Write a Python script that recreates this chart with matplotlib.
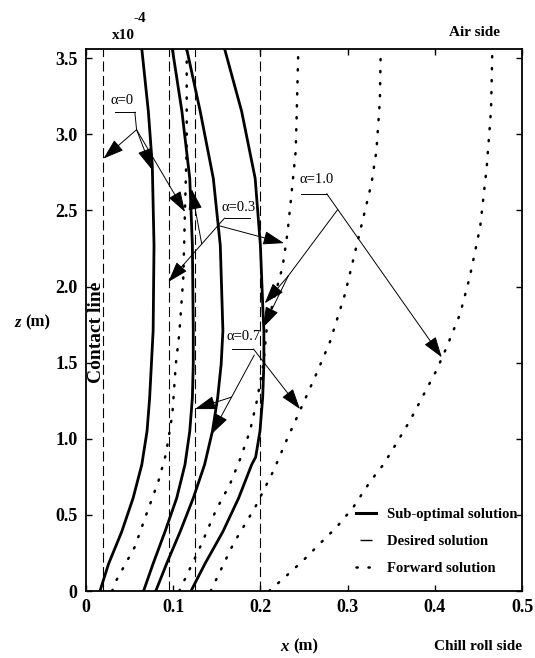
import matplotlib.pyplot as plt
from matplotlib.lines import Line2D

plt.rcParams['font.family'] = ['Liberation Serif', 'DejaVu Serif']
plt.rcParams['font.weight'] = 'bold'

# x in m, z in units of 1e-4 m
# sub-optimal solutions
sub_a0_z = [0, 0.18, 0.39, 0.61, 0.83, 1.05, 1.27, 1.49, 1.71, 2.27, 2.80, 3.15, 3.56]
sub_a0_x = [0.016, 0.026, 0.041, 0.054, 0.064, 0.070, 0.073, 0.075, 0.077, 0.078, 0.076, 0.0715, 0.064]
sub_a3_z = [0, 0.18, 0.39, 0.61, 0.83, 1.05, 1.27, 1.49, 1.71, 2.27, 2.71, 3.15, 3.56]
sub_a3_x = [0.066, 0.077, 0.0906, 0.104, 0.1135, 0.119, 0.122, 0.123, 0.123, 0.122, 0.119, 0.110, 0.099]
sub_a7_z = [0, 0.18, 0.39, 0.61, 0.83, 1.05, 1.27, 1.49, 1.71, 2.27, 2.71, 3.15, 3.56]
sub_a7_x = [0.080, 0.0925, 0.108, 0.123, 0.136, 0.145, 0.151, 0.155, 0.157, 0.154, 0.146, 0.131, 0.1155]
sub_a10_z = [0, 0.18, 0.39, 0.61, 0.83, 0.88, 1.05, 1.27, 1.49, 1.71, 1.83, 2.27, 2.71, 3.15, 3.56]
sub_a10_x = [0.1204, 0.1365, 0.157, 0.175, 0.19, 0.1946, 0.1995, 0.2026, 0.204, 0.204, 0.203, 0.200, 0.194, 0.1785, 0.159]

# forward solutions
fwd_a0_z = [0, 0.066, 0.29, 0.51, 0.72, 0.90, 1.16, 1.49, 1.69, 2.06, 2.5, 2.93, 3.56]
fwd_a0_x = [0.030, 0.0344, 0.056, 0.0696, 0.083, 0.0917, 0.099, 0.103, 0.107, 0.1116, 0.1135, 0.1155, 0.1155]
fwd_a3_z = [0, 0.29, 0.53, 0.70, 0.87, 1.05, 1.25, 1.49, 1.71, 1.91, 2.13, 2.35, 2.57, 2.89, 3.22, 3.56]
fwd_a3_x = [0.107, 0.131, 0.149, 0.165, 0.177, 0.188, 0.196, 0.2035, 0.207, 0.215, 0.2255, 0.231, 0.235, 0.2405, 0.242, 0.2435]
fwd_a7_z = [0, 0.31, 0.55, 0.79, 0.99, 1.18, 1.43, 1.64, 1.95, 2.26, 2.5, 2.68, 2.89, 3.22, 3.56]
fwd_a7_x = [0.143, 0.169, 0.194, 0.215, 0.23, 0.245, 0.2645, 0.28, 0.297, 0.31, 0.32, 0.3275, 0.333, 0.337, 0.338]
fwd_a10_z = [0, 0.09, 0.2, 0.31, 0.42, 0.55, 0.72, 0.83, 0.97, 1.12, 1.32, 1.45, 1.6, 1.82, 2.06, 2.39, 2.78, 3.16, 3.56]
fwd_a10_x = [0.21, 0.228, 0.249, 0.268, 0.2875, 0.3065, 0.326, 0.341, 0.356, 0.3716, 0.39, 0.402, 0.4135,
             0.429, 0.44, 0.452, 0.4595, 0.4645, 0.466]

# desired solutions (vertical lines)
desired_x = [0.02, 0.095, 0.125, 0.2]

x_ticks = [0, 0.1, 0.2, 0.3, 0.4, 0.5]
x_labels = ['0', '0.1', '0.2', '0.3', '0.4', '0.5']
z_ticks = [0, 0.5, 1.0, 1.5, 2.0, 2.5, 3.0, 3.5]
z_labels = ['0', '0.5', '1.0', '1.5', '2.0', '2.5', '3.0', '3.5']

# alpha labels: text, x, z, underline x0, x1, z
alpha_labels = [('α=0', 0.0413, 3.22, 0.033, 0.056, 3.145),
                ('α=0.3', 0.175, 2.52, 0.159, 0.188, 2.45),
                ('α=0.7', 0.181, 1.67, 0.167, 0.192, 1.59),
                ('α=1.0', 0.264, 2.70, 0.247, 0.276, 2.61)]
# plain leader lines
leaders = [((0.056, 3.145), (0.058, 3.03)),
           ((0.2886, 2.505), (0.232, 2.07))]
# arrows: tail, head
arrows = [((0.058, 3.03), (0.02, 2.84)),
          ((0.058, 3.03), (0.0753, 2.77)),
          ((0.058, 3.03), (0.1135, 2.49)),
          ((0.159, 2.45), (0.0944, 2.03)),
          ((0.1327, 2.28), (0.121, 2.64)),
          ((0.152, 2.40), (0.227, 2.285)),
          ((0.193, 1.55), (0.144, 1.03)),
          ((0.167, 1.274), (0.125, 1.195)),
          ((0.192, 1.59), (0.2454, 1.195)),
          ((0.276, 2.61), (0.408, 1.535)),
          ((0.232, 2.07), (0.205, 1.89)),
          ((0.232, 2.07), (0.203, 1.73))]

dots = (0, (0.5, 4.3))
dashes = (0, (9, 4))

fig = plt.figure(figsize=(5.35, 6.58), dpi=100)
ax = fig.add_axes([86 / 535, 1 - 591 / 658, 436 / 535, 542 / 658])

for xd in desired_x:
    ax.axvline(xd, color='k', lw=0.8, linestyle=dashes)

for xs, zs in [(sub_a0_x, sub_a0_z), (sub_a3_x, sub_a3_z), (sub_a7_x, sub_a7_z), (sub_a10_x, sub_a10_z)]:
    ax.plot(xs, zs, color='k', lw=2.0, solid_joinstyle='round')

for xs, zs in [(fwd_a0_x, fwd_a0_z), (fwd_a3_x, fwd_a3_z), (fwd_a7_x, fwd_a7_z), (fwd_a10_x, fwd_a10_z)]:
    ax.plot(xs, zs, color='k', lw=1.8, linestyle=dots, dash_capstyle='round')

for txt, tx, tz, u0, u1, uz in alpha_labels:
    ax.text(tx, tz, txt, ha='center', va='center', fontsize=10.5, fontweight='normal')
    ax.plot([u0, u1], [uz, uz], color='k', lw=0.7)

for (a, b) in leaders:
    ax.plot([a[0], b[0]], [a[1], b[1]], color='k', lw=0.7)

for tail, head in arrows:
    ax.annotate('', xy=head, xytext=tail,
                arrowprops=dict(arrowstyle='-|>,head_length=1.0,head_width=0.33',
                                mutation_scale=13, lw=0.7, color='k',
                                shrinkA=0, shrinkB=0))

ax.text(0.0115, 1.70, 'Contact line', rotation=90, ha='center', va='center', fontsize=14)

ax.set_xlim(0, 0.5)
ax.set_ylim(0, 3.56)
ax.set_xticks(x_ticks)
ax.set_xticklabels(x_labels)
ax.set_yticks(z_ticks)
ax.set_yticklabels(z_labels)
ax.tick_params(direction='in', top=True, right=True, length=4, width=1, labelsize=13, pad=6)
for sp in ax.spines.values():
    sp.set_linewidth(1.3)

# labels around the axes
ax.text(0.087, 1.025, 'x10', transform=ax.transAxes, ha='center', va='center', fontsize=11)
ax.text(0.123, 1.056, '-4', transform=ax.transAxes, ha='center', va='center', fontsize=11)
ax.text(0.89, 1.03, 'Air side', transform=ax.transAxes, ha='center', va='center', fontsize=11)
ax.text(0.898, -0.103, 'Chill roll side', transform=ax.transAxes, ha='center', va='center', fontsize=11)
ax.text(0.465, -0.103, 'x', transform=ax.transAxes, ha='right', va='center', fontsize=12, style='italic')
ax.text(0.475, -0.103, '(m)', transform=ax.transAxes, ha='left', va='center', fontsize=12)
ax.text(-0.15, 0.495, 'z', transform=ax.transAxes, ha='right', va='center', fontsize=12, style='italic')
ax.text(-0.14, 0.495, '(m)', transform=ax.transAxes, ha='left', va='center', fontsize=12)

handles = [Line2D([], [], color='k', lw=2.2),
           Line2D([], [], color='k', lw=1.0, linestyle=(25.7, (8.6, 20))),
           Line2D([], [], color='k', lw=1.8, linestyle=dots, dash_capstyle='round')]
ax.legend(handles, ['Sub-optimal solution', 'Desired solution', 'Forward solution'],
          loc='lower right', bbox_to_anchor=(1.012, 0.011), frameon=False, fontsize=10.5,
          handlelength=1.36, handletextpad=0.7, labelspacing=0.95, borderpad=0.2)

fig.savefig('out.png', dpi=100)
